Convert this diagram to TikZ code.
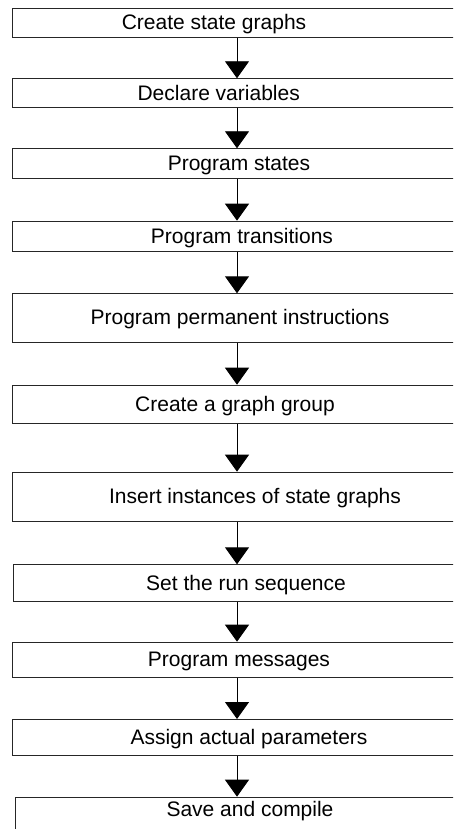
\documentclass[tikz,border=0pt]{standalone}
\usepackage{fontspec}
\setmainfont{Liberation Sans}
\usetikzlibrary{arrows.meta}
\begin{document}
\begin{tikzpicture}[x=1pt,y=-1pt,
  stepbox/.style={draw=black!85, line width=0.9pt, rectangle, inner sep=0pt, anchor=north west},
  steptext/.style={font=\fontsize{21}{24}\selectfont, anchor=base, inner sep=0pt},
  flow/.style={line width=0.9pt, -{Triangle[width=24pt,length=17pt]}}]
\useasboundingbox (0,0) rectangle (453,829);
\clip (0,0) rectangle (453,829);
\coordinate (ax) at (237,0);
% boxes run off the right edge of the picture
\node[stepbox, minimum width=500pt, minimum height=28.7pt] (b1) at (12,8) {};
\node[stepbox, minimum width=500pt, minimum height=29pt] (b2) at (12,78.3) {};
\node[stepbox, minimum width=500pt, minimum height=30pt] (b3) at (12,148.3) {};
\node[stepbox, minimum width=500pt, minimum height=30pt] (b4) at (12,220.7) {};
\node[stepbox, minimum width=500pt, minimum height=48.4pt] (b5) at (12,293.3) {};
\node[stepbox, minimum width=500pt, minimum height=38.6pt] (b6) at (12,384.7) {};
\node[stepbox, minimum width=500pt, minimum height=49.3pt] (b7) at (12,471.7) {};
\node[stepbox, minimum width=500pt, minimum height=36.4pt] (b8) at (13.3,564.3) {};
\node[stepbox, minimum width=500pt, minimum height=35pt] (b9) at (11.7,641.7) {};
\node[stepbox, minimum width=500pt, minimum height=36pt] (b10) at (12,719) {};
\node[stepbox, minimum width=500pt, minimum height=50pt] (b11) at (15,796.7) {};
% texts
\node[steptext] (t1) at (214,30) {Create state graphs};
\node[steptext] (t2) at (218.7,100.3) {Declare variables};
\node[steptext] (t3) at (239,170.8) {Program states};
\node[steptext] (t4) at (242,243.2) {Program transitions};
\node[steptext] (t5) at (240,324) {Program permanent instructions};
\node[steptext] (t6) at (235,411.5) {Create a graph group};
\node[steptext] (t7) at (255,503.9) {Insert instances of state graphs};
\node[steptext] (t8) at (246,590) {Set the run sequence};
\node[steptext] (t9) at (239,666.7) {Program messages};
\node[steptext] (t10) at (249,744.5) {Assign actual parameters};
\node[steptext] (t11) at (250,816.7) {Save and compile};
% connectors
\foreach \a/\b in {b1/b2,b2/b3,b3/b4,b4/b5,b5/b6,b6/b7,b7/b8,b8/b9,b9/b10,b10/b11}
  \draw[flow] (\a.south -| ax) -- (\b.north -| ax);
\end{tikzpicture}
\end{document}
